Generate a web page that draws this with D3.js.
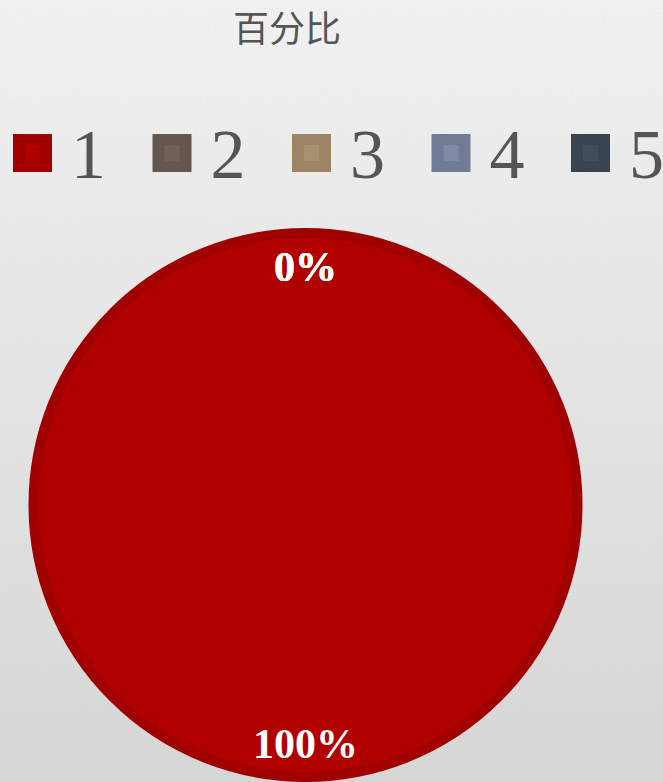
<!DOCTYPE html>
<html>
<head>
<meta charset="utf-8">
<script src="https://cdn.jsdelivr.net/npm/d3@7"></script>
<style>
  html, body { margin: 0; padding: 0; }
  body { width: 663px; height: 782px; overflow: hidden; }
</style>
</head>
<body>
<div id="chart"></div>
<script>
const categories = ['1', '2', '3', '4', '5'];
const values = [100, 0, 0, 0, 0];
const fillColors = ['#b00000', '#6f6156', '#a89171', '#7f8aa3', '#434d58'];
const edgeColors = ['#a00000', '#65574d', '#9c8565', '#707c96', '#3a4450'];
const title = '百分比';

const width = 663, height = 782;
const cx = 305.5, cy = 505, R = 277;

const svg = d3.select('#chart').append('svg')
    .attr('width', width)
    .attr('height', height);

const defs = svg.append('defs');
const grad = defs.append('linearGradient')
    .attr('id', 'bg').attr('x1', 0).attr('y1', 0).attr('x2', 0).attr('y2', 1);
grad.append('stop').attr('offset', '0%').attr('stop-color', '#f4f4f4');
grad.append('stop').attr('offset', '100%').attr('stop-color', '#d8d8d8');

// paper-like grain
const noise = defs.append('filter').attr('id', 'grain')
    .attr('x', 0).attr('y', 0).attr('width', '100%').attr('height', '100%');
noise.append('feTurbulence').attr('type', 'fractalNoise')
    .attr('baseFrequency', '0.35 0.6').attr('numOctaves', 2).attr('seed', 3);
noise.append('feColorMatrix').attr('type', 'matrix')
    .attr('values', '0 0 0 0 0.5  0 0 0 0 0.5  0 0 0 0 0.5  0 0 0 0.12 0');
noise.append('feComposite').attr('in2', 'SourceGraphic').attr('operator', 'in');

svg.append('rect').attr('width', width).attr('height', height).attr('fill', 'url(#bg)');
svg.append('rect').attr('width', width).attr('height', height)
    .attr('fill', '#fff').attr('filter', 'url(#grain)');

svg.append('text')
    .attr('x', 287).attr('y', 26)
    .attr('text-anchor', 'middle')
    .attr('dominant-baseline', 'central')
    .style('font-family', '"Noto Sans CJK SC", sans-serif')
    .style('font-size', '36px')
    .style('fill', '#555')
    .text(title);

// legend
const legend = svg.append('g').attr('transform', 'translate(13,134)');
const item = legend.selectAll('g')
    .data(categories)
    .enter().append('g')
    .attr('transform', (d, i) => `translate(${i * 139.5},0)`);

item.append('rect')
    .attr('width', 39).attr('height', 38)
    .attr('fill', (d, i) => edgeColors[i]);
item.append('rect')
    .attr('x', 12).attr('y', 11).attr('width', 15).attr('height', 16)
    .attr('fill', (d, i) => fillColors[i]);
item.append('text')
    .attr('x', 58).attr('y', 44)
    .style('font-family', '"Liberation Serif", "Times New Roman", serif')
    .style('font-size', '70px')
    .style('fill', '#555')
    .text(d => d);

// pie
const pie = d3.pie().sort(null).value(d => d.value);
const arcs = pie(categories.map((c, i) => ({ cat: c, value: values[i], i })));
const arc = d3.arc().innerRadius(0).outerRadius(R - 5);
const labelArc = d3.arc().innerRadius(R * 0.86).outerRadius(R * 0.86);
const total = d3.sum(values);

const g = svg.append('g').attr('transform', `translate(${cx},${cy})`);

g.selectAll('path')
    .data(arcs.filter(d => d.data.value > 0))
    .enter().append('path')
    .attr('d', arc)
    .attr('fill', d => fillColors[d.data.i])
    .attr('stroke', d => edgeColors[d.data.i])
    .attr('stroke-width', 10);

g.selectAll('text')
    .data(arcs)
    .enter().append('text')
    .attr('transform', d => `translate(${labelArc.centroid(d)})`)
    .attr('text-anchor', 'middle')
    .attr('dy', '0.35em')
    .style('font-family', '"Liberation Serif", "Times New Roman", serif')
    .style('font-weight', 'bold')
    .style('font-size', '42px')
    .style('fill', '#fff')
    .text(d => Math.round(d.data.value / total * 100) + '%');
</script>
</body>
</html>
